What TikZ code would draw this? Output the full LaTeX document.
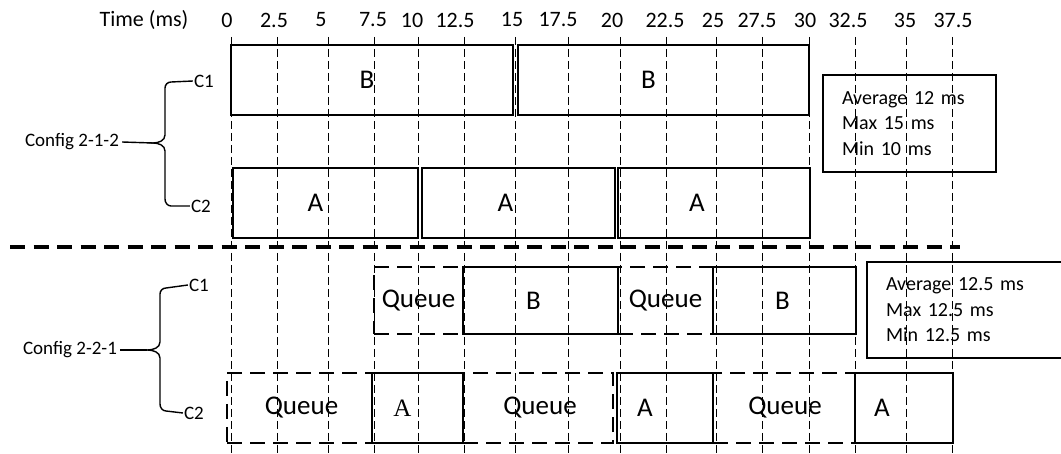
\documentclass[tikz,border=0pt]{standalone}
\usepackage{fontspec}
\setmainfont{Carlito}
\newfontfamily\serifA{Liberation Serif}
\begin{document}
\begin{tikzpicture}[x=1pt,y=-1pt,
  gridline/.style={line width=0.9pt, dash pattern=on 8pt off 4pt},
  slot/.style={draw, line width=2.2pt, inner sep=0pt, outer sep=0pt, anchor=north west},
  solidslot/.style={slot},
  queueslot/.style={slot, dash pattern=on 15pt off 8pt},
  lbl/.style={font=\fontsize{27}{30}\selectfont, inner sep=0pt},
  ticklbl/.style={font=\fontsize{22}{25}\selectfont, inner sep=0pt},
  chan/.style={font=\fontsize{19}{22}\selectfont, inner sep=1pt},
  cfg/.style={font=\fontsize{19}{22}\selectfont, inner sep=3pt},
  brace/.style={line width=1.4pt},
  stats/.style={draw, line width=1.4pt, outer sep=0pt, anchor=north west, align=left, inner xsep=19pt, inner ysep=0pt, font=\fontsize{20}{25.5}\selectfont},
  sep/.style={line width=3.5pt, dash pattern=on 15pt off 8.5pt}]
\useasboundingbox (0,0) rectangle (1061,454);
\fill[white] (0,0) rectangle (1061,454);

% axis title and tick labels
\node[ticklbl] (ttl) at (144,20) {Time (ms)};
\foreach \lx/\t [count=\i] in {227/0,274/2.5,321/5,373/7.5,412/10,455/12.5,512/15,558/17.5,612/20,665/22.5,713/25,757/27.5,805/30,848/32.5,905/35,953/37.5}
  \node[ticklbl] (tk\i) at (\lx,20) {\t};

% grid lines
\foreach \gx [count=\i] in {231,277,328,374,418,464,515,568,620,666,716,762,809,855,906,952}{
  \coordinate (gt\i) at (\gx,37);
  \coordinate (gb\i) at (\gx,454);
  \draw[gridline] (gt\i) -- (gb\i);
}

% separator
\coordinate (sepL) at (10,247);
\coordinate (sepR) at (960,247);
\draw[sep] (sepL) -- (sepR);

% ---------- Config 2-1-2 ----------
\node[solidslot, minimum width=282pt, minimum height=70pt, label={[lbl,xshift=-5pt]center:B}] (tb1) at (231,45) {};
\node[solidslot, minimum width=291pt, minimum height=70pt, label={[lbl,xshift=-15pt]center:B}] (tb2) at (518,45) {};
\node[solidslot, minimum width=185pt, minimum height=70pt, label={[lbl,xshift=-10pt]center:A}] (ta1) at (233,168) {};
\node[solidslot, minimum width=193pt, minimum height=70pt, label={[lbl,xshift=-13pt]center:A}] (ta2) at (422,168) {};
\node[solidslot, minimum width=192pt, minimum height=70pt, label={[lbl,xshift=-17pt]center:A}] (ta3) at (618,168) {};

\node[stats, minimum width=173pt, minimum height=97pt, text width=135pt] (s1) at (823,75) {Average 12 ms\\Max 15 ms\\Min 10 ms};

\node[chan] (c1t) at (204,81) {C1};
\node[chan] (c2t) at (201,206) {C2};
\node[cfg] (cfgt) at (72,142) {Config 2-1-2};
\coordinate (tipt) at (153,143);
\draw[brace] (c1t.west) -- (171,82) to[out=180,in=90] (165,88) -- (165,135)
  to[out=-90,in=0] (tipt) to[out=0,in=90] (165,151) -- (165,199)
  to[out=-90,in=180] (171,206) -- (c2t.west);
\draw[brace] (cfgt.east) -- (tipt);

% ---------- Config 2-2-1 ----------
\node[queueslot, minimum width=89pt, minimum height=67pt, label={[lbl]center:Queue}] (bq1) at (374,267) {};
\node[queueslot, minimum width=95pt, minimum height=67pt, label={[lbl]center:Queue}] (bq2) at (618,267) {};
\node[solidslot, minimum width=155pt, minimum height=67pt, label={[lbl,xshift=-7pt]center:B}] (bb1) at (463,267) {};
\node[solidslot, minimum width=143pt, minimum height=67pt, label={[lbl,xshift=-2pt]center:B}] (bb2) at (713,267) {};

\node[queueslot, minimum width=145pt, minimum height=70pt, label={[lbl,xshift=2pt]center:Queue}] (cq1) at (227,373) {};
\node[queueslot, minimum width=150pt, minimum height=70pt, label={[lbl,xshift=2pt]center:Queue}] (cq2) at (463,373) {};
\node[queueslot, minimum width=142pt, minimum height=70pt, label={[lbl,xshift=1pt]center:Queue}] (cq3) at (713,373) {};
\node[solidslot, minimum width=91pt, minimum height=70pt, label={[lbl,xshift=-15pt,font=\serifA\fontsize{25}{28}\selectfont]center:A}] (ca1) at (372,373) {};
\node[solidslot, minimum width=96pt, minimum height=70pt, label={[lbl,xshift=-20pt]center:A}] (ca2) at (617,373) {};
\node[solidslot, minimum width=98pt, minimum height=70pt, label={[lbl,xshift=-22pt]center:A}] (ca3) at (855,373) {};

\node[stats, minimum width=200pt, minimum height=96pt, text width=162pt] (s2) at (867,262) {Average 12.5 ms\\Max 12.5 ms\\Min 12.5 ms};

\node[chan] (c1b) at (199,285) {C1};
\node[chan] (c2b) at (194,413) {C2};
\node[cfg] (cfgb) at (70,350) {Config 2-2-1};
\coordinate (tipb) at (147,350);
\draw[brace] (c1b.west) -- (166,288) to[out=180,in=90] (160,294) -- (160,342)
  to[out=-90,in=0] (tipb) to[out=0,in=90] (160,358) -- (160,404)
  to[out=-90,in=180] (166,411) -- (c2b.west);
\draw[brace] (cfgb.east) -- (tipb);
\end{tikzpicture}
\end{document}
